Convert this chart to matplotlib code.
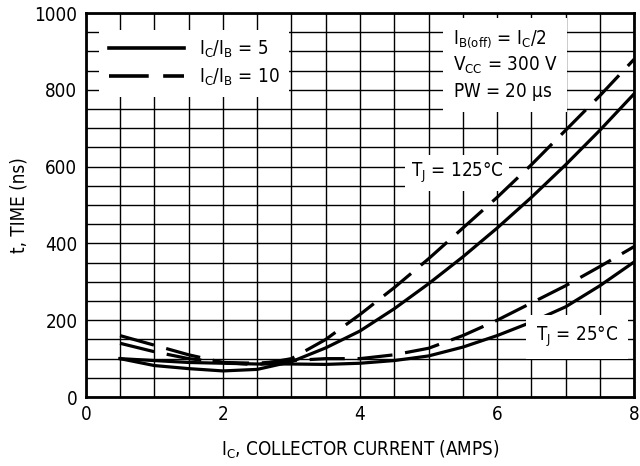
import matplotlib
matplotlib.use('Agg')
import matplotlib.pyplot as plt

# data
ic = [0.5, 1.0, 1.5, 2.0, 2.5, 3.0, 3.5, 4.0, 4.5, 5.0, 5.5, 6.0, 6.5, 7.0, 7.5, 8.0]
t125_ib5 = [100, 82, 74, 68, 72, 92, 128, 172, 230, 295, 365, 440, 520, 605, 695, 790]
t125_ib10 = [160, 135, 110, 90, 84, 100, 150, 215, 285, 360, 440, 520, 605, 695, 785, 880]
t25_ib5 = [100, 95, 90, 88, 86, 86, 85, 88, 95, 107, 130, 160, 195, 235, 290, 352]
t25_ib10 = [140, 118, 100, 90, 88, 95, 100, 100, 110, 127, 160, 200, 245, 290, 340, 392]

xticks = [0, 2, 4, 6, 8]
yticks = [0, 200, 400, 600, 800, 1000]

plt.rcParams['font.family'] = ['DejaVu Sans']
plt.rcParams['font.stretch'] = 'condensed'
plt.rcParams['mathtext.fontset'] = 'custom'
plt.rcParams['mathtext.rm'] = 'DejaVu Sans:stretch=condensed'
plt.rcParams['mathtext.it'] = 'DejaVu Sans:stretch=condensed'

FS = 13.5

fig = plt.figure(figsize=(6.4, 4.66), dpi=100)
ax = fig.add_axes([0.134, 0.148, 0.857, 0.824])

ax.set_xlim(0, 8)
ax.set_ylim(0, 1000)
ax.set_xticks([i * 0.5 for i in range(17)], minor=True)
ax.set_yticks([i * 50 for i in range(21)], minor=True)
ax.set_xticks(xticks)
ax.set_yticks(yticks)
ax.grid(True, which='both', color='black', linewidth=1.0)
ax.tick_params(which='both', length=0, labelsize=FS, pad=6)
for s in ax.spines.values():
    s.set_linewidth(2.0)

dash = (0, (11, 4))
lw = 2.3
l1, = ax.plot(ic, t125_ib5, color='black', lw=lw, zorder=3)
l2, = ax.plot(ic, t125_ib10, color='black', lw=lw, linestyle=dash, zorder=3)
ax.plot(ic, t25_ib5, color='black', lw=lw, zorder=3)
ax.plot(ic, t25_ib10, color='black', lw=lw, linestyle=dash, zorder=3)

leg = ax.legend([l1, l2], ['$\\mathregular{I_C/I_B}$ = 5', '$\\mathregular{I_C/I_B}$ = 10'],
                loc='upper left', bbox_to_anchor=(0.025, 0.957), frameon=True,
                fancybox=False, edgecolor='none', facecolor='white', framealpha=1,
                handlelength=4.0, fontsize=FS, borderpad=0.5, labelspacing=0.35,
                handletextpad=0.8, borderaxespad=0)
leg.set_zorder(5)
for h in leg.get_lines():
    h.set_linewidth(2.6)

box = dict(facecolor='white', edgecolor='none', pad=7)
small_box = dict(facecolor='white', edgecolor='none', pad=4)
ax.text(5.35, 960, '$\\mathregular{I_{B(off)}}$ = $\\mathregular{I_C}$/2\n'
        '$\\mathregular{V_{CC}}$ = 300 V\nPW = 20 $\\mathregular{\\mu}$s',
        ha='left', va='top', fontsize=FS, linespacing=1.3, bbox=box, zorder=5)
ax.text(5.42, 583, '$\\mathregular{T_J}$ = 125°C', ha='center', va='center',
        fontsize=FS, bbox=small_box, zorder=2.5)
ax.text(7.17, 156, '$\\mathregular{T_J}$ = 25°C', ha='center', va='center',
        fontsize=FS, bbox=box, zorder=4)

ax.set_xlabel('$\\mathregular{I_C}$, COLLECTOR CURRENT (AMPS)', fontsize=FS, labelpad=10)
ax.set_ylabel('t, TIME (ns)', fontsize=FS, labelpad=4)

fig.savefig('out.png', dpi=100, facecolor='white')
